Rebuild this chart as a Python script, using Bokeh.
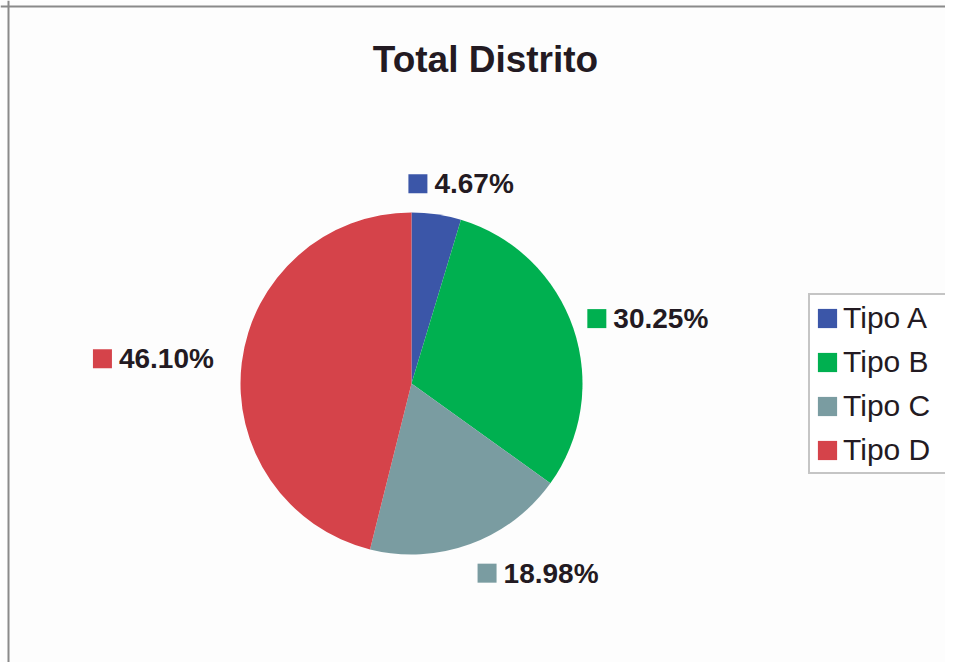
import math
from bokeh.plotting import figure
from bokeh.models import ColumnDataSource, Range1d, Label, Legend, LegendItem, Span
from bokeh.core.properties import value
from bokeh.embed import file_html
from bokeh.resources import INLINE

# ---- data ----
title_text = "Total Distrito"
categories = ["Tipo A", "Tipo B", "Tipo C", "Tipo D"]
percents = [4.67, 30.25, 18.98, 46.10]
colors = ["#3B56A8", "#00B050", "#7A9CA1", "#D5434A"]

# ---- layout constants ----
W, H = 945, 662
CX, CY, R = 411, 279, 171
FONT = "Liberation Sans"
TXT = "#231A22"

p = figure(width=W, height=H, output_backend="svg", toolbar_location=None,
           x_range=Range1d(0, W), y_range=Range1d(0, H), min_border=0,
           x_axis_location=None, y_axis_location=None,
           background_fill_color="#FDFDFD", border_fill_color="#FDFDFD",
           outline_line_color=None)
p.grid.visible = False

total = sum(percents)
starts, ends, mids = [], [], []
acc = 0.0
for v in percents:
    a0 = math.pi / 2 - 2 * math.pi * acc / total
    acc += v
    a1 = math.pi / 2 - 2 * math.pi * acc / total
    starts.append(a0)
    ends.append(a1)
    mids.append((a0 + a1) / 2)

src = ColumnDataSource(dict(cat=categories, pct=percents, color=colors,
                            start=starts, end=ends))
wedges = p.wedge(x=CX, y=CY, radius=R, start_angle="start", end_angle="end",
                 direction="clock", fill_color="color", line_color=None, source=src)

# ---- data labels (placed outside along each slice's bisector) ----
LR = 192
lab_txt, lab_tx, lab_ty, sq_x, sq_y = [], [], [], [], []
for v, m in zip(percents, mids):
    t = f"{v:.2f}%"
    w = 26 + len(t) * 17
    h = 20
    ax = CX + LR * math.cos(m)
    ay = CY + LR * math.sin(m)
    kx = max(-1.0, min(1.0, 3 * math.cos(m)))
    bx = ax + kx * w / 2 - (6 if math.cos(m) > 0.7 else 0)
    by = ay + math.sin(m) * h / 2
    left = bx - w / 2
    lab_txt.append(t)
    lab_tx.append(left + 26)
    lab_ty.append(by)
    sq_x.append(left + 9.5)
    sq_y.append(by)

p.scatter(x=sq_x, y=sq_y, marker="square", size=19, fill_color=colors, line_color=None)
p.text(x=lab_tx, y=lab_ty, text=lab_txt, text_font=value(FONT), text_font_style="bold",
       text_font_size="28px", text_color=TXT, text_align="left", text_baseline="middle")

# ---- title ----
p.add_layout(Label(x=485, y=603, text=title_text, text_font=FONT, text_font_style="bold",
                   text_font_size="37px", text_color=TXT, text_align="center",
                   text_baseline="middle"))

# ---- legend ----
items = [LegendItem(label=c, renderers=[wedges], index=i) for i, c in enumerate(categories)]
legend = Legend(items=items, location=(808, 188), orientation="vertical",
                label_text_font=FONT, label_text_font_size="30px", label_text_color=TXT,
                glyph_width=24, glyph_height=24, label_standoff=4, label_height=35,
                label_width=99, spacing=9, padding=5, margin=0,
                border_line_color="#8C8C8C", border_line_width=2,
                background_fill_color="#FFFFFF", background_fill_alpha=1.0)
p.add_layout(legend)

# ---- chart frame (top and left edges) ----
p.add_layout(Span(location=8, dimension="height", line_color="#8A8A8A", line_width=2))
p.add_layout(Span(location=H - 6, dimension="width", line_color="#8A8A8A", line_width=2))

open("out.html", "w").write(file_html(p, INLINE))
